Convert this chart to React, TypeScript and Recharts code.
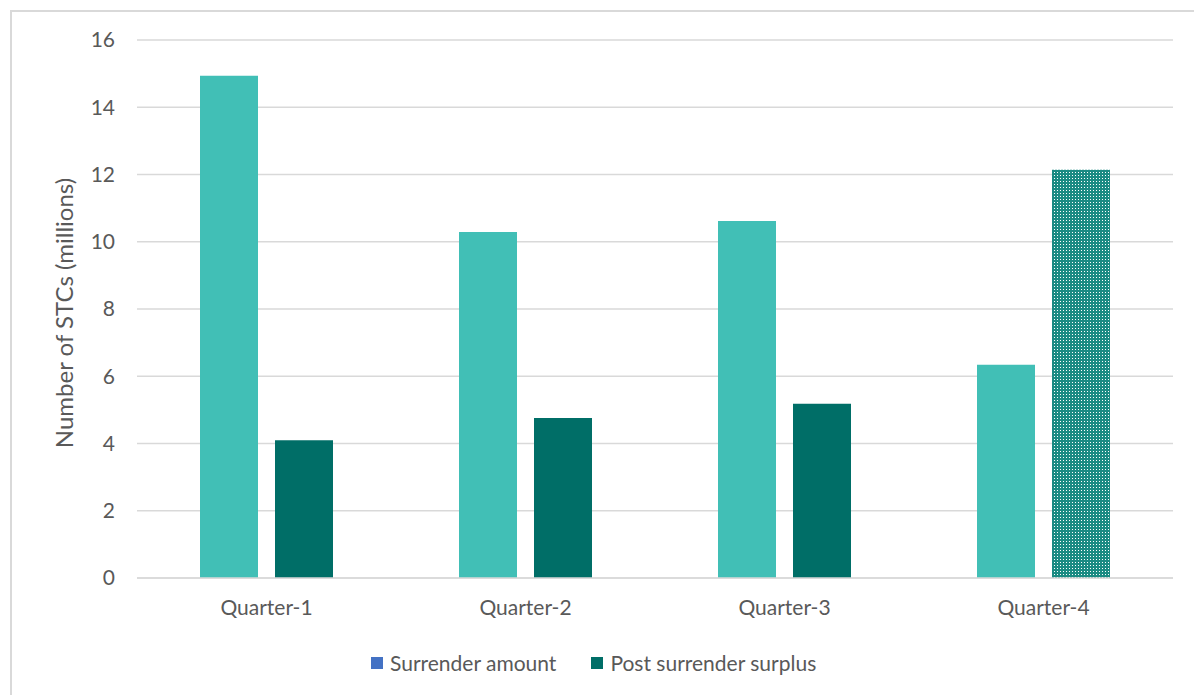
import { BarChart, Bar, XAxis, YAxis, CartesianGrid, Cell } from 'recharts'

const quarters = ['Quarter-1', 'Quarter-2', 'Quarter-3', 'Quarter-4']
const surrenderAmount = [14.94, 10.29, 10.62, 6.34]
const postSurrenderSurplus = [4.1, 4.76, 5.18, 12.14]
const yTicks = [0, 2, 4, 6, 8, 10, 12, 14, 16]

// last quarter's surplus is a projection, drawn with a hatch fill
const projected = [false, false, false, true]

const FONT = 'Lato, "Open Sans", sans-serif'
const TEXT = '#595959'
const LIGHT_TEAL = '#41bfb6'
const DARK_TEAL = '#006e67'

const data = quarters.map((q, i) => ({
  quarter: q,
  surrender: surrenderAmount[i],
  surplus: postSurrenderSurplus[i],
}))

function AxisTitle({ viewBox }: any) {
  const cx = 63
  const cy = viewBox ? viewBox.y + viewBox.height / 2 + 4 : 313
  return (
    <text
      x={cx}
      y={cy}
      transform={`rotate(-90 ${cx} ${cy})`}
      textAnchor="middle"
      dominantBaseline="central"
      fill={TEXT}
      fontSize={24}
      fontFamily={FONT}
    >
      Number of STCs (millions)
    </text>
  )
}

export default function App() {
  return (
    <div style={{ position: 'absolute', left: 0, top: 0, width: 1194, height: 695, overflow: 'hidden', background: '#fff', fontFamily: FONT }}>
      {/* hatch pattern shared with the chart svg */}
      <svg width={0} height={0} style={{ position: 'absolute' }}>
        <defs>
          <pattern id="surplusHatch" width={3} height={3} patternUnits="userSpaceOnUse">
            <rect width={3} height={3} fill="#1b8b83" />
            <rect x={1} y={1} width={1} height={1} fill="#ffffff" />
          </pattern>
        </defs>
      </svg>

      {/* chart frame */}
      <div style={{ position: 'absolute', left: 10, top: 10, width: 1300, height: 800, border: '2px solid #d9d9d9', boxSizing: 'border-box' }} />

      <div style={{ position: 'absolute', left: 0, top: 0 }}>
        <BarChart
          width={1194}
          height={695}
          data={data}
          margin={{ top: 40, right: 21, left: 40, bottom: 77 }}
          barSize={58}
          barGap={17}
        >
          <CartesianGrid vertical={false} stroke="#d9d9d9" strokeWidth={1.5} />
          <XAxis
            dataKey="quarter"
            height={40}
            axisLine={{ stroke: '#d9d9d9', strokeWidth: 1.5 }}
            tickLine={false}
            tickSize={0}
            tickMargin={22}
            tick={{ fill: TEXT, fontSize: 21, fontFamily: FONT }}
          />
          <YAxis
            width={97}
            domain={[0, 16]}
            ticks={yTicks}
            axisLine={false}
            tickLine={false}
            tickSize={0}
            tickMargin={22}
            tick={{ fill: TEXT, fontSize: 21, fontFamily: FONT }}
            label={<AxisTitle />}
          />
          <Bar dataKey="surrender" fill={LIGHT_TEAL} isAnimationActive={false} />
          <Bar dataKey="surplus" fill={DARK_TEAL} isAnimationActive={false}>
            {data.map((_, i) => (
              <Cell key={i} fill={projected[i] ? 'url(#surplusHatch)' : DARK_TEAL} />
            ))}
          </Bar>
        </BarChart>
      </div>

      {/* legend */}
      <div style={{ position: 'absolute', left: 371, top: 649, display: 'flex', alignItems: 'center', fontSize: 21, color: TEXT, lineHeight: '28px' }}>
        <span style={{ width: 12, height: 12, background: '#4472c4', display: 'inline-block', marginRight: 7 }} />
        <span>Surrender amount</span>
        <span style={{ width: 12, height: 12, background: DARK_TEAL, display: 'inline-block', marginLeft: 35, marginRight: 7 }} />
        <span>Post surrender surplus</span>
      </div>
    </div>
  )
}
